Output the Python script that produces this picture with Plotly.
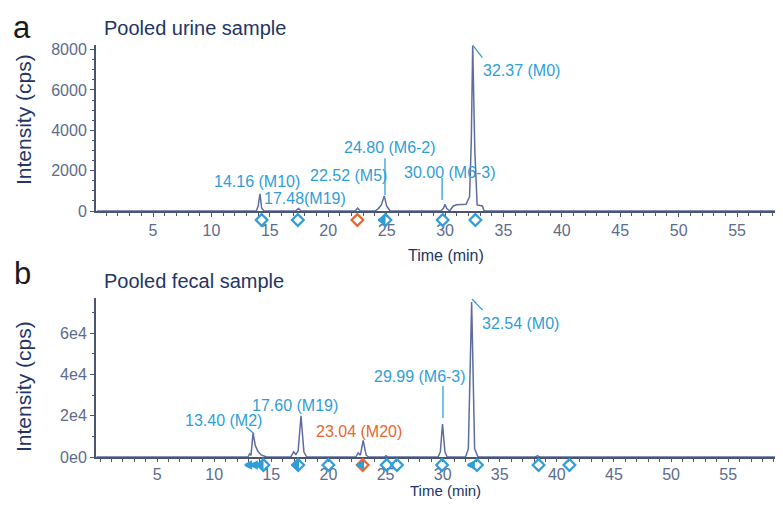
import plotly.graph_objects as go

# ---------------- data ----------------
# Panel a: pooled urine sample chromatogram (time in min, intensity in cps)
urine_time = [0.2, 13.85, 14.0, 14.16, 14.3, 14.5, 17.2, 17.45, 17.7, 22.3, 22.52, 22.75,
              24.0, 24.3, 24.55, 24.8, 25.0, 25.3, 29.65, 29.85, 30.0, 30.15, 30.4,
              30.7, 31.0, 31.8, 32.1, 32.25, 32.37, 32.55, 32.75, 33.2, 33.35, 58.9]
urine_int = [0, 0, 250, 850, 150, 0, 0, 120, 0, 0, 140, 0,
             0, 120, 300, 750, 250, 0, 0, 120, 330, 120, 0,
             250, 310, 330, 700, 3500, 8200, 3000, 300, 250, 0, 0]

# Panel b: pooled fecal sample chromatogram
fecal_time = [-0.3, 12.95, 13.1, 13.22, 13.4, 13.6, 13.8, 14.1, 14.6, 16.7, 16.95, 17.15,
              17.35, 17.6, 17.85, 18.1, 22.4, 22.6, 22.8, 23.04, 23.3, 23.5, 24.9,
              25.05, 25.2, 29.6, 29.8, 29.99, 30.2, 30.4, 32.0, 32.25, 32.54, 32.8,
              33.1, 38.1, 38.3, 38.5, 59.8]
fecal_int = [0, 0, 1500, 800, 11500, 5500, 3000, 1000, 0, 0, 2500, 1200,
             3000, 20000, 2500, 0, 0, 2000, 900, 8000, 1000, 0, 0,
             600, 0, 0, 2500, 16000, 2500, 0, 0, 4000, 75000, 4000,
             0, 0, 600, 0, 0]

# peak labels
urine_labels = ["14.16 (M10)", "17.48(M19)", "22.52 (M5)", "24.80 (M6-2)", "30.00 (M6-3)", "32.37 (M0)"]
urine_label_x = [10.05, 14.33, 18.27, 21.2, 26.3, 33.05]
urine_label_y = [1480, 640, 1780, 3160, 1930, 6950]
urine_label_col = ["blue", "blue", "blue", "blue", "blue", "blue"]

fecal_labels = ["13.40 (M2)", "17.60 (M19)", "23.04 (M20)", "29.99 (M6-3)", "32.54 (M0)"]
fecal_label_x = [7.27, 13.13, 18.74, 23.8, 33.25]
fecal_label_y = [17900, 25160, 12580, 39200, 64840]
fecal_label_col = ["blue", "blue", "orange", "blue", "blue"]

# integration markers below the axis
urine_mark_blue = [14.3, 17.4, 24.9, 29.8, 32.6]
urine_mark_orange = [22.5]
urine_arrows = [24.3]
fecal_mark_blue = [14.3, 17.35, 20.0, 25.1, 26.0, 29.95, 33.0, 38.4, 41.1]
fecal_mark_orange = [23.0]
fecal_arrows = [12.7, 13.2, 13.7, 16.8, 22.5, 32.2]

x_ticks = [5, 10, 15, 20, 25, 30, 35, 40, 45, 50, 55]
ya_ticks = [0, 2000, 4000, 6000, 8000]
yb_ticks = [0, 20000, 40000, 60000]
yb_ticktext = ["0e0", "2e4", "4e4", "6e4"]

# ---------------- style ----------------
OFFX, OFFY = 8, 8    # page offset of the figure (body margin)
W, H = 767, 493
L = 88
BLUE = "#2f9ed8"
ORANGE = "#e8672f"
TRACE = "#5e6c9e"
AXIS = "#4c5570"
TICKF = "#5d6b8c"
TITLE = "#233565"
FONT = "Liberation Sans, Arial, sans-serif"
colmap = {"blue": BLUE, "orange": ORANGE}


def px(x):
    return (x - OFFX - L) / (W - L)


def py(y):
    return 1 - (y - OFFY) / H


fig = go.Figure()

fig.add_trace(go.Scatter(x=urine_time, y=urine_int, mode="lines", xaxis="x", yaxis="y",
                         line=dict(color=TRACE, width=1.5), cliponaxis=False, showlegend=False))
fig.add_trace(go.Scatter(x=fecal_time, y=fecal_int, mode="lines", xaxis="x2", yaxis="y2",
                         line=dict(color=TRACE, width=1.5), cliponaxis=False, showlegend=False))

# markers below axes (on thin helper strips)
for xs, col, ax, ay, sym, sz in [
    (urine_mark_blue, BLUE, "x", "y3", "diamond-open", 9),
    (urine_mark_orange, ORANGE, "x", "y3", "diamond-open", 9),
    (urine_arrows, BLUE, "x", "y3", "arrow-left", 6),
    (fecal_mark_blue, BLUE, "x2", "y4", "diamond-open", 9),
    (fecal_mark_orange, ORANGE, "x2", "y4", "diamond-open", 9),
    (fecal_arrows, BLUE, "x2", "y4", "arrow-left", 6),
]:
    fig.add_trace(go.Scatter(x=xs, y=[0.5] * len(xs), mode="markers", xaxis=ax, yaxis=ay,
                             marker=dict(symbol=sym, size=sz, color=col,
                                         line=dict(color=col, width=2.2)),
                             cliponaxis=False, showlegend=False))

annotations = []
for t, x, y, c in zip(urine_labels, urine_label_x, urine_label_y, urine_label_col):
    annotations.append(dict(text=t, x=x, y=y, xref="x", yref="y", xanchor="left", yanchor="middle",
                            showarrow=False, font=dict(size=16, color=colmap[c], family=FONT)))
for t, x, y, c in zip(fecal_labels, fecal_label_x, fecal_label_y, fecal_label_col):
    annotations.append(dict(text=t, x=x, y=y, xref="x2", yref="y2", xanchor="left", yanchor="middle",
                            showarrow=False, font=dict(size=16, color=colmap[c], family=FONT)))

# panel letters
annotations.append(dict(text="a", x=px(22), y=1, xref="paper", yref="paper", xanchor="center",
                        yanchor="top", showarrow=False, font=dict(size=31, color="#1a1a1a", family=FONT)))
annotations.append(dict(text="b", x=px(22), y=py(273), xref="paper", yref="paper", xanchor="center",
                        yanchor="middle", showarrow=False, font=dict(size=31, color="#1a1a1a", family=FONT)))
for txt, y in [("Pooled urine sample", 28), ("Pooled fecal sample", 281)]:
    annotations.append(dict(text=txt, x=px(102), y=py(y), xref="paper", yref="paper", xanchor="left",
                            yanchor="middle", showarrow=False, font=dict(size=20, color=TITLE, family=FONT)))
for y in [120, 387]:
    annotations.append(dict(text="Intensity (cps)", x=px(23), y=py(y), xref="paper", yref="paper",
                            xanchor="center", yanchor="middle", textangle=-90, showarrow=False,
                            font=dict(size=21, color=TITLE, family=FONT)))
annotations.append(dict(text="Time (min)", x=px(446), y=py(255), xref="paper", yref="paper",
                        xanchor="center", yanchor="middle", showarrow=False,
                        font=dict(size=16, color=TITLE, family=FONT)))
annotations.append(dict(text="Time (min)", x=px(446), y=0, xref="paper", yref="paper",
                        xanchor="center", yanchor="bottom", showarrow=False,
                        font=dict(size=15, color=TITLE, family=FONT)))

shapes = []
for x0, y0, x1, y1, xr, yr in [
    (24.86, 2620, 24.86, 790, "x", "y"),
    (29.75, 1630, 29.75, 540, "x", "y"),
    (32.4, 8200, 33.2, 7600, "x", "y"),
    (12.8, 14500, 13.5, 11300, "x2", "y2"),
    (30.03, 34360, 30.03, 18870, "x2", "y2"),
    (32.57, 76500, 33.5, 71130, "x2", "y2"),
]:
    shapes.append(dict(type="line", x0=x0, y0=y0, x1=x1, y1=y1, xref=xr, yref=yr,
                       line=dict(color=BLUE, width=1.3)))


def xaxis_style(tl):
    return dict(tickvals=x_ticks, ticks="outside", ticklen=tl, tickwidth=1.2, tickcolor=AXIS,
                showline=True, linecolor=AXIS, linewidth=2, showgrid=False, zeroline=False,
                automargin=False,
                tickfont=dict(size=16, color=TICKF, family=FONT),
                minor=dict(dtick=1, ticks="outside", ticklen=2.5, tickcolor=AXIS, tickwidth=1),
                domain=[0, 1])


ycommon = dict(ticks="outside", ticklen=4, tickwidth=1.2, tickcolor=AXIS, showline=True,
               linecolor=AXIS, linewidth=2, showgrid=False, zeroline=False, automargin=False,
               tickfont=dict(size=16, color=TICKF, family=FONT))
hidden = dict(visible=False, range=[0, 1], fixedrange=True)

fig.update_layout(
    width=W, height=H, margin=dict(l=L, r=0, t=0, b=0, pad=0, autoexpand=False),
    paper_bgcolor="white", plot_bgcolor="rgba(0,0,0,0)",
    xaxis=dict(range=[0.12, 58.25], anchor="y", **xaxis_style(4)),
    yaxis=dict(range=[0, 8230], domain=[py(211), py(45)], anchor="x", tickvals=ya_ticks,
               minor=dict(dtick=500, ticks="outside", ticklen=2.5, tickcolor=AXIS, tickwidth=1), **ycommon),
    xaxis2=dict(range=[-0.35, 59.1], anchor="y2", **xaxis_style(2)),
    yaxis2=dict(range=[0, 77000], domain=[py(457), py(298)], anchor="x2", tickvals=yb_ticks,
                ticktext=yb_ticktext,
                minor=dict(dtick=10000, ticks="outside", ticklen=2.5, tickcolor=AXIS, tickwidth=1), **ycommon),
    yaxis3=dict(domain=[py(229), py(211)], anchor="x", **hidden),
    yaxis4=dict(domain=[py(473), py(457)], anchor="x2", **hidden),
    annotations=annotations, shapes=shapes,
    font=dict(family=FONT),
)

fig.write_html("out.html")
